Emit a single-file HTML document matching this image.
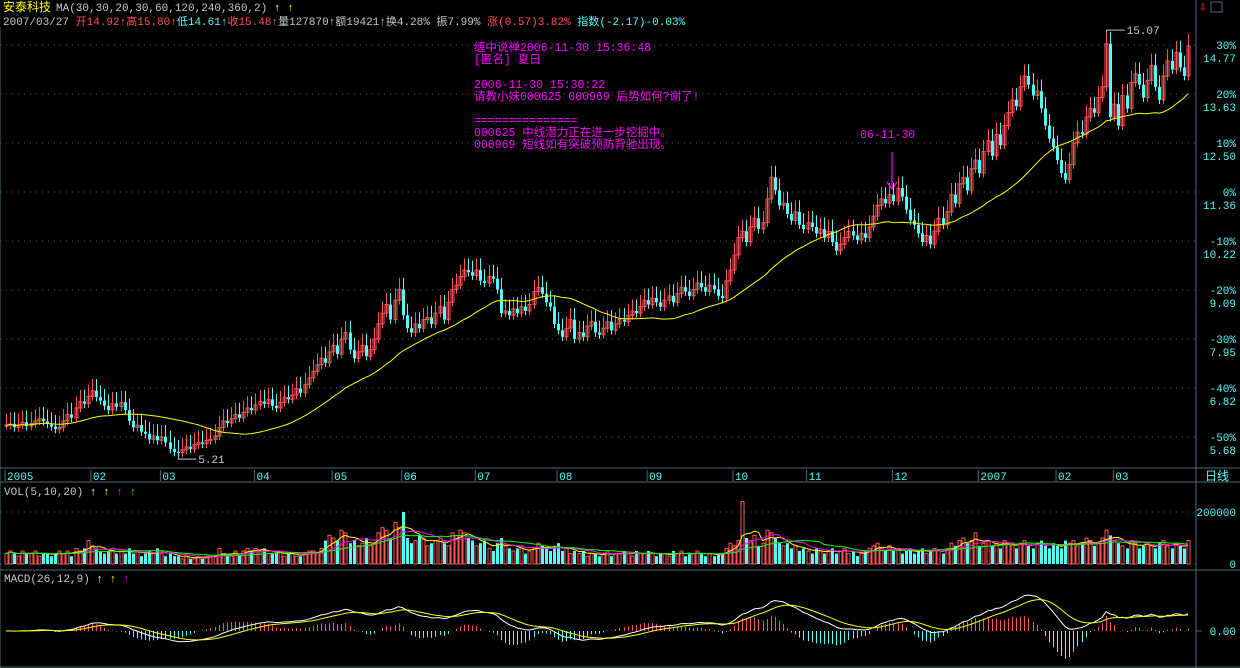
<!DOCTYPE html>
<html><head><meta charset="utf-8">
<style>
html,body{margin:0;padding:0;background:#000;}
body{width:1240px;height:668px;overflow:hidden;position:relative;font-family:"Liberation Mono","WenQuanYi Zen Hei",monospace;}
svg{position:absolute;left:0;top:0;}
</style></head>
<body>
<svg id="chart" width="1240" height="668" xmlns="http://www.w3.org/2000/svg" font-family="Liberation Mono, WenQuanYi Zen Hei, monospace">
<g font-size="12">
<text x="3" y="11" fill="#ffff00" font-family="WenQuanYi Zen Hei, sans-serif" font-size="12">安泰科技</text>
<text x="56" y="11" fill="#c8c8c8" font-size="11">MA(30,30,20,30,60,120,240,360,2) <tspan fill="#fff">↑</tspan> <tspan fill="#ffff00">↑</tspan></text>
<text x="3" y="25" font-size="11" fill="#c8c8c8">2007/03/27 <tspan fill="#ff5050">开14.92↑高15.80↑</tspan><tspan fill="#54fcfc">低14.61↑</tspan><tspan fill="#ff5050">收15.48↑</tspan>量127870↑额19421↑换4.28% 振7.99% <tspan fill="#ff5050">涨(0.57)3.82%</tspan> <tspan fill="#54fcfc">指数(-2.17)-0.03%</tspan></text>
</g>
<g>
<text x="1199" y="11" fill="#ff2020" font-size="13" font-weight="bold">⇩</text>
<rect x="1211" y="2" width="11" height="10" fill="none" stroke="#4a6a78"/>
</g>
<g fill="#ff00ff" font-size="11.5">
<text x="474" y="51">缠中说禅2006-11-30 15:36:48</text>
<text x="474" y="63">[匿名] 夏日</text>
<text x="474" y="88">2006-11-30 15:30:22</text>
<text x="474" y="100">请教小妹000625 000969 后势如何?谢了!</text>
<text x="474" y="124">===============</text>
<text x="474" y="136">000625 中线潜力正在进一步挖掘中。</text>
<text x="474" y="148">000969 短线如有突破预防背驰出现。</text>
<text x="860" y="138">06-11-30</text>
</g>
<g stroke="#ff00ff" stroke-width="1.2" fill="none">
<line x1="892" y1="152" x2="892" y2="189"/><polyline points="887,182 892,189 897,182"/>
</g>
<g id="frame"></g>
<g id="main"></g>
<g id="vol"></g>
<g id="macd"></g>
</svg>
<script>
const closes=[
5.95,5.98,5.90,5.96,6.02,5.93,5.99,6.05,6.10,6.04,
5.98,5.92,5.86,5.90,6.05,6.20,6.12,6.35,6.50,6.45,
6.62,6.75,6.60,6.52,6.40,6.30,6.45,6.38,6.48,6.30,
6.05,5.90,5.95,5.80,5.75,5.62,5.70,5.60,5.68,5.55,
5.40,5.33,5.31,5.38,5.45,5.40,5.50,5.55,5.52,5.60,
5.62,5.70,5.90,6.05,6.00,6.10,6.20,6.12,6.25,6.35,
6.30,6.42,6.50,6.45,6.55,6.40,6.35,6.48,6.60,6.55,
6.65,6.80,6.70,6.90,7.05,7.20,7.35,7.50,7.40,7.65,
7.80,7.60,7.95,8.10,7.70,7.50,7.65,7.80,7.55,7.70,
7.95,8.30,8.55,8.75,8.40,8.85,9.10,8.50,8.20,8.10,
8.30,8.20,8.40,8.45,8.30,8.55,8.70,8.40,8.80,9.10,
9.20,9.40,9.55,9.50,9.42,9.55,9.30,9.25,9.40,9.35,
9.10,8.55,8.60,8.50,8.65,8.55,8.70,8.60,8.75,9.05,
9.15,9.00,8.80,8.70,8.30,8.15,8.00,8.20,8.40,7.95,
8.10,8.00,8.25,8.35,8.10,8.05,8.20,8.35,8.15,8.30,
8.40,8.35,8.50,8.60,8.55,8.70,8.85,8.75,8.90,8.80,
8.70,8.85,8.95,8.80,9.00,9.15,9.05,8.95,9.10,9.25,
9.15,9.05,9.20,9.10,8.95,8.90,9.30,9.55,9.90,10.30,
10.45,10.20,10.55,10.75,10.50,10.65,11.20,11.70,11.40,11.05,
11.10,10.85,10.70,10.90,10.60,10.50,10.65,10.55,10.40,10.50,
10.30,10.45,10.20,10.00,10.15,10.30,10.45,10.35,10.25,10.40,
10.30,10.55,10.80,11.05,11.20,11.10,11.30,11.15,11.45,11.25,
10.95,10.70,10.60,10.40,10.20,10.35,10.15,10.45,10.75,10.60,
10.90,11.30,11.10,11.55,11.70,11.40,11.90,12.10,11.80,12.30,
12.55,12.20,12.70,12.45,12.90,13.20,13.50,13.35,13.80,14.05,
13.85,13.60,13.70,13.30,12.90,12.60,12.40,12.10,11.80,11.65,
12.00,12.50,12.75,12.70,13.10,13.30,13.20,13.55,13.80,14.80,
13.10,13.40,12.90,13.60,13.30,13.90,14.10,13.85,13.55,13.95,
14.30,13.80,13.50,14.05,14.40,14.20,14.60,14.25,14.05,14.75];
const volumes=[
4,5,4,3,5,4,4,5,3,4, 4,3,4,5,4,5,3,6,5,6, 9,7,6,5,4,5,6,4,5,4, 6,4,5,3,4,5,4,6,4,3,
4,3,3,2,3,2,2,3,2,3, 3,3,6,4,3,3,5,4,5,6, 5,6,5,6,4,4,4,5,3,4, 4,3,3,4,5,5,4,6,9,11,
10,9,13,12,8,9,7,8,10,7, 8,12,14,13,10,16,14,20,10,8, 9,11,10,7,8,9,10,8,7,12, 11,13,12,10,9,7,8,9,6,5,
8,10,7,6,5,6,7,4,5,6, 8,7,6,5,7,8,5,6,4,5, 4,5,3,4,4,3,4,5,3,4, 4,5,4,3,5,4,4,5,4,3,
4,4,3,5,4,5,3,4,4,5, 4,3,4,3,4,4,6,8,7,9, 24,10,9,11,7,8,13,12,10,8, 7,8,6,7,5,6,5,4,6,5,
4,5,6,4,5,6,4,5,3,4, 5,6,7,8,6,5,7,5,6,4, 5,6,4,5,6,4,5,6,5,4, 6,8,7,9,10,8,9,12,7,8,
9,7,8,6,9,8,7,6,8,9, 7,6,8,9,7,6,8,7,6,9, 8,9,7,8,10,9,7,8,10,13, 11,9,8,7,6,9,8,6,7,8,
7,6,8,9,7,6,8,7,6,9];
const pctTicks=[30,20,10,0,-10,-20,-30,-40,-50];
const basePrice=11.36;
const monthLabels=["2005","02","03","04","05","06","07","08","09","10","11","12","2007","02","03"];
const monthStartBars=[0,21,38,61,80,97,115,135,157,178,196,217,238,257,271];
const volTicks=[0,200000];

const NS="http://www.w3.org/2000/svg";
function mk(parent,tag,attrs){const e=document.createElementNS(NS,tag);for(const k in attrs)e.setAttribute(k,attrs[k]);parent.appendChild(e);return e;}
const N=closes.length, X0=6, PW=1186, step=PW/N;
const xAt=i=>X0+i*step;
const yP=p=>192-(p-basePrice)*43.1;
const yV=v=>564-v*2.6;
const RED="#ff5454", CY="#54fcfc", GRID="#3c6878";

const frame=document.getElementById('frame');
[[1196,0,1196,668],[0,468,1240,468],[0,482,1240,482],[0,570,1240,570],[0,667,1240,667],[0,27,0,668]].forEach(l=>{
 const e=mk(frame,'line',{x1:l[0],y1:l[1],x2:l[2],y2:l[3],stroke:"#4a6a78"});
 
 
});
const main=document.getElementById('main');
pctTicks.forEach(t=>{
 const y=192-t*4.9;
 const g=mk(main,'line',{x1:0,y1:y,x2:1200,y2:y,stroke:GRID,'stroke-dasharray':'1,5'});
 
 
 const tl=mk(main,'text',{x:1236,y:y+4,fill:CY,'font-size':11,'text-anchor':'end'});
 tl.textContent=t+"%";
 
 
 const pl=mk(main,'text',{x:1236,y:y+17,fill:CY,'font-size':11,'text-anchor':'end'});
 pl.textContent=(basePrice*(1+t/100)).toFixed(2);
 
 
});
monthLabels.forEach((m,k)=>{
 const x=xAt(monthStartBars[k])-1;
 const tk=mk(frame,'line',{x1:x,y1:470,x2:x,y2:481,stroke:"#4a6a78"});
 
 
 const t=mk(frame,'text',{x:x+2,y:480,fill:CY,'font-size':11});
 t.textContent=m;
 
 
});
const rl=mk(frame,'text',{x:1205,y:480,fill:CY,'font-size':12,'font-family':'WenQuanYi Zen Hei, sans-serif'});
rl.textContent="日线";



const opens=closes.map((c,i)=>i?closes[i-1]:c);
let hiI=0,loI=0;
const highs=closes.map((c,i)=>Math.max(c,opens[i])+0.27), lows=closes.map((c,i)=>Math.min(c,opens[i])-0.1);
highs.forEach((h,i)=>{if(h>highs[hiI])hiI=i;if(lows[i]<lows[loI])loI=i;});
for(let i=0;i<N;i++){
 const x=Math.round(xAt(i)), o=opens[i], c=closes[i], up=c>=o, col=up?RED:CY;
 const w=mk(main,'line',{x1:x+0.5,y1:yP(highs[i]),x2:x+0.5,y2:yP(lows[i]),stroke:col});
 
 
 const top=yP(Math.max(o,c)), h=Math.max(1,yP(Math.min(o,c))-top);
 const b=mk(main,'rect',{x:x-1,y:top,width:3,height:h,fill:up?'none':col,stroke:col,'stroke-width':up?1:0});
 
 
}
function ma(arr,n){return arr.map((v,i)=>{const s=Math.max(0,i-n+1);let t=0;for(let k=s;k<=i;k++)t+=arr[k];return t/(i-s+1);});}
function poly(parent,vals,fy,col,name){
 const pts=vals.map((v,i)=>xAt(i).toFixed(1)+","+fy(v).toFixed(1)).join(" ");
 const p=mk(parent,'polyline',{points:pts,fill:'none',stroke:col,'stroke-width':1});
 
 
}
poly(main,ma(closes,30),yP,"#ffff00","ma30-line");
[[hiI,highs[hiI],-1],[loI,lows[loI],1]].forEach(([i,p,d])=>{
 const x=xAt(i)+0.5, y=yP(p)+d*2;
 const l=mk(main,'polyline',{points:`${x},${yP(p)} ${x},${y} ${x+18},${y}`,fill:'none',stroke:'#c8c8c8'});
 
 
 const t=mk(main,'text',{x:x+20,y:y+4,fill:'#c8c8c8','font-size':11});
 t.textContent=p.toFixed(2);
 
 
});

const vol=document.getElementById('vol');
const vt=mk(vol,'text',{x:4,y:495,fill:'#c8c8c8','font-size':11});
vt.innerHTML='VOL(5,10,20) <tspan fill="#fff">↑</tspan> <tspan fill="#ffff00">↑</tspan> <tspan fill="#ff00ff">↑</tspan> <tspan fill="#00ff00">↑</tspan>';


volTicks.forEach(v=>{
 const y=yV(v/10000);
 const g=mk(vol,'line',{x1:0,y1:y,x2:1200,y2:y,stroke:GRID,'stroke-dasharray':'1,5'});
 
 
 const t=mk(vol,'text',{x:1236,y:y+4,fill:CY,'font-size':11,'text-anchor':'end'});
 t.textContent=v;
 
 
});
for(let i=0;i<N;i++){
 const x=Math.round(xAt(i)), up=closes[i]>=opens[i], col=up?RED:CY, top=yV(volumes[i]);
 const b=mk(vol,'rect',{x:x-1,y:top,width:3,height:564-top,fill:up?'none':col,stroke:col,'stroke-width':up?1:0});
 
 
}
poly(vol,ma(volumes,5),yV,"#ffff00","vol-ma5");
poly(vol,ma(volumes,10),yV,"#ff00ff","vol-ma10");
poly(vol,ma(volumes,20),yV,"#00ff00","vol-ma20");

const macd=document.getElementById('macd');
const mt=mk(macd,'text',{x:4,y:582,fill:'#c8c8c8','font-size':11});
mt.innerHTML='MACD(26,12,9) <tspan fill="#fff">↑</tspan> <tspan fill="#ffff00">↑</tspan> <tspan fill="#ff00ff">↑</tspan>';


function ema(arr,n){const a=2/(n+1);let e=arr[0];return arr.map(v=>e=e+a*(v-e));}
const e12=ema(closes,12), e26=ema(closes,26);
const dif=e12.map((v,i)=>v-e26[i]), dea=ema(dif,9), hist=dif.map((v,i)=>2*(v-dea[i]));
const mx=Math.max(...dif.map(Math.abs),...hist.map(Math.abs));
const yM=v=>631-v*36/mx;
const zl=mk(macd,'line',{x1:1196,y1:631,x2:1202,y2:631,stroke:GRID});


const zt=mk(macd,'text',{x:1236,y:635,fill:CY,'font-size':11,'text-anchor':'end'});
zt.textContent="0.00";


for(let i=0;i<N;i++){
 const x=Math.round(xAt(i))+0.5;
 const h=mk(macd,'line',{x1:x,y1:631,x2:x,y2:yM(hist[i]),stroke:hist[i]>=0?RED:CY});
 
 
}
poly(macd,dif,yM,"#ffffff","macd-dif-line");
poly(macd,dea,yM,"#ffff00","macd-dea-line");
</script>
</body></html>
